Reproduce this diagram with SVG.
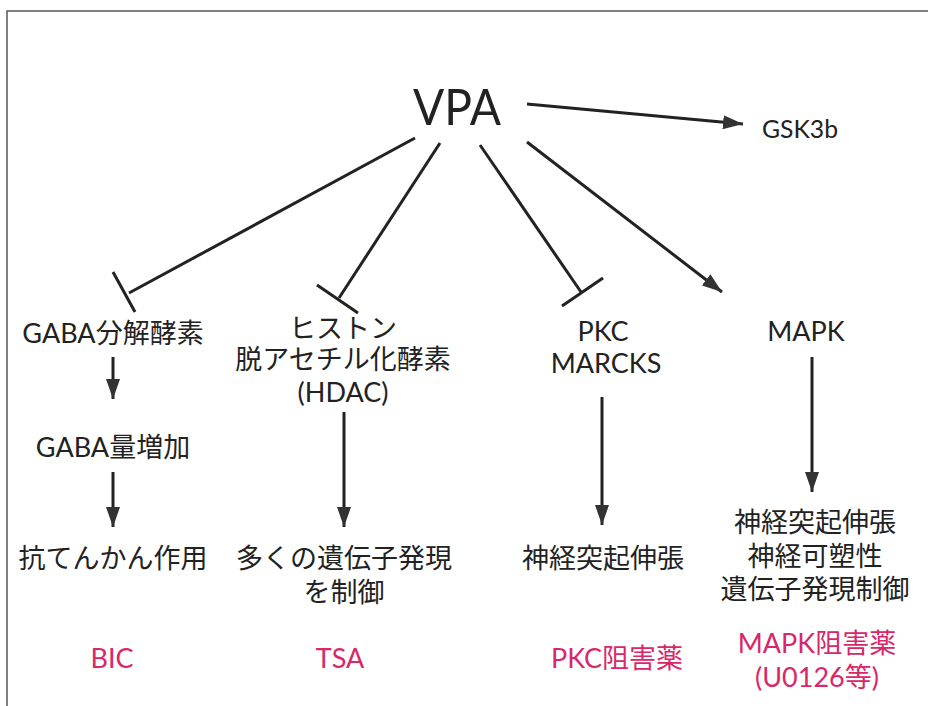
<svg xmlns="http://www.w3.org/2000/svg" width="928" height="706" viewBox="0 0 928 706">
<defs>
<style>
text{font-family:Lato,"Noto Sans CJK JP",sans-serif;fill:#222;text-anchor:middle}
.n{font-size:27px}
.p{font-size:27px;fill:#d9276a}
.c{stroke:#222;stroke-width:3;fill:none}
.a{marker-end:url(#ah)}
</style>
<marker id="ah" viewBox="0 0 20 14" refX="20" refY="7" markerWidth="20" markerHeight="14" markerUnits="userSpaceOnUse" orient="auto">
<path d="M0,0 L20,7 L0,14 Z" fill="#333"/>
</marker>
</defs>
<rect x="0" y="0" width="928" height="706" fill="#fff"/>
<path d="M7,720 V11 H940" fill="none" stroke="#555" stroke-width="1.5"/>
<g id="connectors">
<path class="c a" d="M527,104 L743,124"/>
<path class="c" d="M415,138 L129,293"/>
<path class="c" d="M113,272 L135,312"/>
<path class="c" d="M440,143 L339,298"/>
<path class="c" d="M317,285 L358,313"/>
<path class="c" d="M480,145 L581,292"/>
<path class="c" d="M562,306 L603,278"/>
<path class="c a" d="M527,142 L722,292"/>
<path class="c a" d="M113,357 V399"/>
<path class="c a" d="M113,472 V527"/>
<path class="c a" d="M344,412 V527"/>
<path class="c a" d="M602,397 V525"/>
<path class="c a" d="M812,357 V492"/>
</g>
<g id="vpa"><text x="457" y="125" font-size="50" textLength="88" lengthAdjust="spacingAndGlyphs">VPA</text></g>
<g id="gsk3b"><text x="800" y="138" font-size="25" textLength="76" lengthAdjust="spacingAndGlyphs">GSK3b</text></g>
<g id="gaba-enzyme"><text class="n" x="113" y="343">GABA分解酵素</text></g>
<g id="hdac"><text class="n" x="343" y="338">ヒストン</text><text class="n" x="343" y="369">脱アセチル化酵素</text><text class="n" x="343" y="402">(HDAC)</text></g>
<g id="pkc"><text class="n" x="603" y="341">PKC</text><text class="n" x="606" y="373">MARCKS</text></g>
<g id="mapk"><text class="n" x="806" y="341">MAPK</text></g>
<g id="gaba-increase"><text class="n" x="113" y="457">GABA量増加</text></g>
<g id="antiepileptic"><text class="n" x="113" y="568">抗てんかん作用</text></g>
<g id="gene-control"><text class="n" x="344" y="568">多くの遺伝子発現</text><text class="n" x="344" y="602">を制御</text></g>
<g id="neurite-pkc"><text class="n" x="603" y="568">神経突起伸張</text></g>
<g id="mapk-effects"><text class="n" x="815" y="532">神経突起伸張</text><text class="n" x="815" y="566">神経可塑性</text><text class="n" x="815" y="599">遺伝子発現制御</text></g>
<g id="bic"><text class="p" x="112" y="668">BIC</text></g>
<g id="tsa"><text class="p" x="340" y="668">TSA</text></g>
<g id="pkc-inhibitor"><text class="p" x="617" y="668">PKC阻害薬</text></g>
<g id="mapk-inhibitor"><text class="p" x="817" y="653">MAPK阻害薬</text><text class="p" x="817" y="687">(U0126等)</text></g>
</svg>
